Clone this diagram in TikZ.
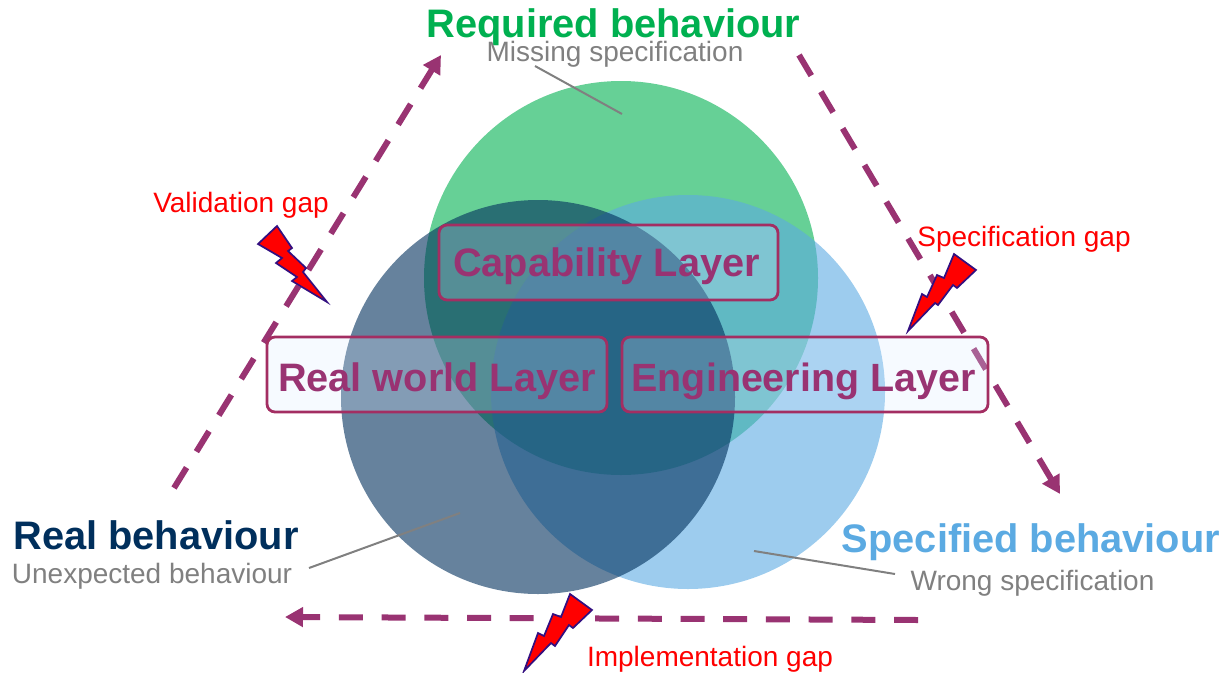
\documentclass[tikz,border=0pt]{standalone}
\usepackage{fontspec}
\setmainfont{Liberation Sans}
\usetikzlibrary{arrows.meta}
\definecolor{plum}{HTML}{993372}
\definecolor{boxedge}{HTML}{A32E62}
\definecolor{boxfill}{HTML}{DBEBFF}
\definecolor{reqgreen}{HTML}{00B050}
\definecolor{realnavy}{HTML}{002F5C}
\definecolor{specblue}{HTML}{5BAAE2}
\definecolor{boltedge}{HTML}{330F80}
\newcommand{\layertext}[2]{\raisebox{#1}[0pt][0pt]{#2}}
\tikzset{
  x=1pt,y=-1pt,
  disc/.style={circle,minimum size=394pt,inner sep=0pt,fill opacity=#1,draw=none},
  gaparrow/.style={draw=plum,line width=6pt,dash pattern=on 24pt off 18.7pt,-{Triangle[length=18pt,width=19pt]}},
  leader/.style={draw=gray,line width=2pt},
  layerbox/.style={draw=boxedge,line width=2.8pt,rounded corners=8pt,fill=boxfill,fill opacity=.25,draw opacity=1,text opacity=1,text=plum,font=\fontsize{39.7}{42}\selectfont\bfseries,inner sep=0pt},
  title/.style={font=\fontsize{39.8}{42}\selectfont\bfseries,inner sep=0pt},
  note/.style={font=\fontsize{28}{30}\selectfont,text=gray,inner sep=0pt},
  gaplabel/.style={font=\fontsize{28}{30}\selectfont,text=red,inner sep=0pt},
  bolt/.style={draw=boltedge,fill=red,line width=1.7pt,line join=miter},
}
\begin{document}
\begin{tikzpicture}
\useasboundingbox (0,0) rectangle (1222,672);
% arrows behind everything
\coordinate (valS) at (174,488); \coordinate (valE) at (441,55);
\coordinate (speS) at (799,55); \coordinate (speE) at (1060,494);
\coordinate (impS) at (918,620); \coordinate (impE) at (285,617);
\draw[gaparrow] (valS) -- (valE);
\draw[gaparrow] (speS) -- (speE);
\draw[gaparrow] (impS) -- (impE);
% circles
\node[disc=.6,fill=reqgreen] (green) at (621,278) {};
\node[disc=.6,fill=specblue] (blue) at (688,392) {};
\node[disc=.6,fill=realnavy] (navy) at (538,397) {};
% layers
\node[layerbox,minimum width=339pt,minimum height=75pt] (cap) at (608.5,262.5) {\layertext{-13.5pt}{Capability Layer\hspace{4pt}}};
\node[layerbox,minimum width=340pt,minimum height=75pt] (rw) at (437,374.5) {\layertext{-16.5pt}{Real world Layer}};
\node[layerbox,minimum width=366pt,minimum height=75pt] (eng) at (805,374.5) {\fontsize{39.4}{42}\selectfont\layertext{-16.5pt}{Engineering Layer\hspace{3pt}}};
% titles
\node[title,text=reqgreen] (req) at (613.5,27) {Required behaviour};
\node[title,text=realnavy] (real) at (156,535) {Real behaviour};
\node[title,text=specblue] (spec) at (1031,542) {Specified behaviour};
\node[note] (miss) at (615,54) {Missing specification};
\node[note] (unexp) at (152,576) {Unexpected behaviour};
\node[note] (wrong) at (1032.5,583) {Wrong specification};
% leaders
\coordinate (l1) at (622,114); \coordinate (l1s) at (535,66);
\coordinate (l2) at (460,513); \coordinate (l2s) at (309,568);
\coordinate (l3) at (754,551); \coordinate (l3s) at (895,574);
\draw[leader] (l1s) -- (l1);
\draw[leader] (l2s) -- (l2);
\draw[leader] (l3s) -- (l3);
% bolts
\draw[bolt] (277,226)--(292,248)--(288,251)--(306,268)--(303,272)--(327,302)--(292,281)--(297,277)--(276,263)--(282,258)--(258,244)--cycle;
\draw[bolt] (908,331)--(922,294)--(927,297)--(937,275)--(944,278)--(954,254)--(976,270)--(957,288)--(953,285)--(938,305)--(935,303)--cycle;
\draw[bolt] (524,671)--(538,633)--(544,636)--(553,614)--(561,617)--(570,594)--(592,610)--(573,628)--(569,625)--(555,646)--(551,643)--cycle;
% gap labels
\node[gaplabel] (vg) at (241,205) {Validation gap};
\node[gaplabel] (sg) at (1024,239) {Specification gap};
\node[gaplabel] (ig) at (710,659) {Implementation gap};
\end{tikzpicture}
\end{document}
